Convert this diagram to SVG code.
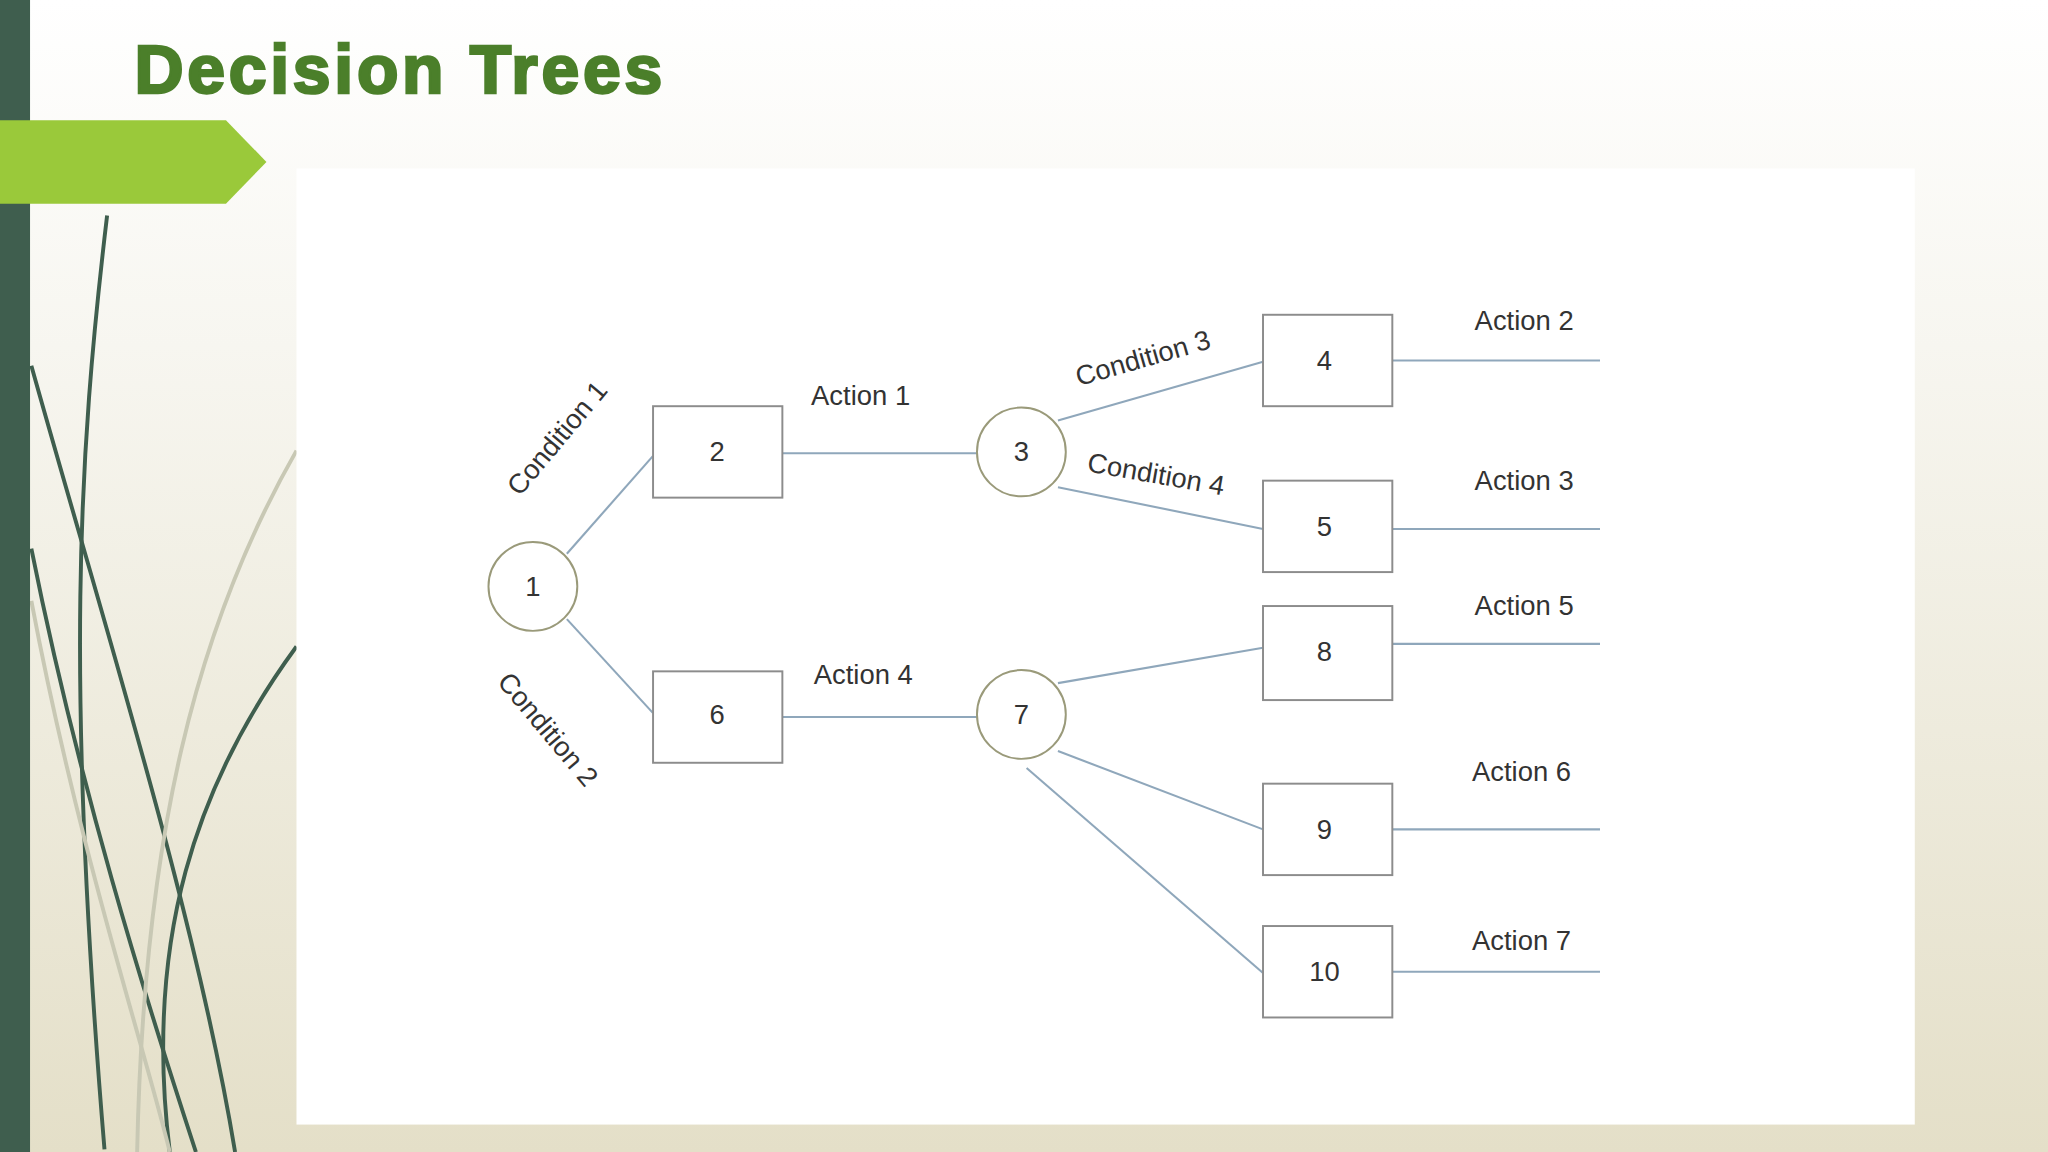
<svg xmlns="http://www.w3.org/2000/svg" width="2048" height="1152" viewBox="0 0 2048 1152">
<defs>
<linearGradient id="bg" x1="0" y1="0" x2="0" y2="1"><stop offset="0" stop-color="#ffffff"/><stop offset="0.3" stop-color="#f7f6f0"/><stop offset="1" stop-color="#e4dfc8"/></linearGradient>
<style>
.n{fill:#fff;stroke:#8c8c8c;stroke-width:1.5}
.c{fill:#fff;stroke:#9a9a7a;stroke-width:1.5}
.e{stroke:#8fa7bb;stroke-width:1.6;fill:none}
.t{font-family:"Liberation Sans",Arial,sans-serif;font-size:21px;fill:#333}
.m{text-anchor:middle}
.d{fill:none;stroke:#3f5e4e;stroke-width:3}
</style>
</defs>
<g transform="scale(1.30612)">
<rect width="1568" height="882" fill="url(#bg)"/>
<g id="decor">
<path class="d" d="M82,165 C60,350 50,520 80,880"/>
<path class="d" d="M24,280 C80,480 150,700 180,882"/>
<path class="d" d="M24,420 C60,600 110,760 150,882"/>
<path class="d" d="M227,495 C150,600 110,720 130,882"/>
<path fill="none" stroke="#c8c8b4" stroke-width="3" d="M227,345 C150,480 110,640 105,882"/>
<path fill="none" stroke="#c8c8b4" stroke-width="3" d="M24,460 C60,650 110,800 130,882"/>
</g>
<rect x="0" y="0" width="23" height="882" fill="#3f5e4e"/>
<polygon points="0,92 173,92 204,124 173,156 0,156" fill="#9ac93a"/>
<text x="103" y="71" font-family="Liberation Sans,Arial,sans-serif" font-weight="bold" font-size="52" fill="#4b7f2a" stroke="#4b7f2a" stroke-width="2" textLength="404">Decision Trees</text>
<rect x="227" y="129" width="1239" height="732" fill="#fff"/>
<g id="connectors">
<line class="e" x1="434" y1="424" x2="500" y2="349"/>
<line class="e" x1="434" y1="474" x2="500" y2="546"/>
<line class="e" x1="599" y1="347" x2="748" y2="347"/>
<line class="e" x1="599" y1="549" x2="748" y2="549"/>
<line class="e" x1="810" y1="322" x2="967" y2="277"/>
<line class="e" x1="810" y1="373" x2="967" y2="405"/>
<line class="e" x1="810" y1="523" x2="967" y2="496"/>
<line class="e" x1="810" y1="575" x2="967" y2="635"/>
<line class="e" x1="786" y1="588" x2="967" y2="745"/>
<line class="e" x1="1066" y1="276" x2="1225" y2="276"/>
<line class="e" x1="1066" y1="405" x2="1225" y2="405"/>
<line class="e" x1="1066" y1="493" x2="1225" y2="493"/>
<line class="e" x1="1066" y1="635" x2="1225" y2="635"/>
<line class="e" x1="1066" y1="744" x2="1225" y2="744"/>
</g>
<g id="n1"><circle class="c" cx="408" cy="449" r="34"/><text class="t m" x="408" y="456">1</text></g>
<g id="n3"><circle class="c" cx="782" cy="346" r="34"/><text class="t m" x="782" y="353">3</text></g>
<g id="n7"><circle class="c" cx="782" cy="547" r="34"/><text class="t m" x="782" y="554">7</text></g>
<g id="n2"><rect class="n" x="500" y="311" width="99" height="70"/><text class="t m" x="549" y="353">2</text></g>
<g id="n6"><rect class="n" x="500" y="514" width="99" height="70"/><text class="t m" x="549" y="554">6</text></g>
<g id="n4"><rect class="n" x="967" y="241" width="99" height="70"/><text class="t m" x="1014" y="283">4</text></g>
<g id="n5"><rect class="n" x="967" y="368" width="99" height="70"/><text class="t m" x="1014" y="410">5</text></g>
<g id="n8"><rect class="n" x="967" y="464" width="99" height="72"/><text class="t m" x="1014" y="506">8</text></g>
<g id="n9"><rect class="n" x="967" y="600" width="99" height="70"/><text class="t m" x="1014" y="642">9</text></g>
<g id="n10"><rect class="n" x="967" y="709" width="99" height="70"/><text class="t m" x="1014" y="751">10</text></g>
<g id="labels">
<text class="t" x="621" y="310">Action 1</text>
<text class="t" x="623" y="524">Action 4</text>
<text class="t" x="1129" y="253">Action 2</text>
<text class="t" x="1129" y="375">Action 3</text>
<text class="t" x="1129" y="471">Action 5</text>
<text class="t" x="1127" y="598">Action 6</text>
<text class="t" x="1127" y="727">Action 7</text>
<text class="t m" transform="translate(432,340) rotate(-50)">Condition 1</text>
<text class="t m" transform="translate(414,563) rotate(50)">Condition 2</text>
<text class="t m" transform="translate(877,281) rotate(-16)">Condition 3</text>
<text class="t m" transform="translate(884,370) rotate(10)">Condition 4</text>
</g>
</g>
</svg>
